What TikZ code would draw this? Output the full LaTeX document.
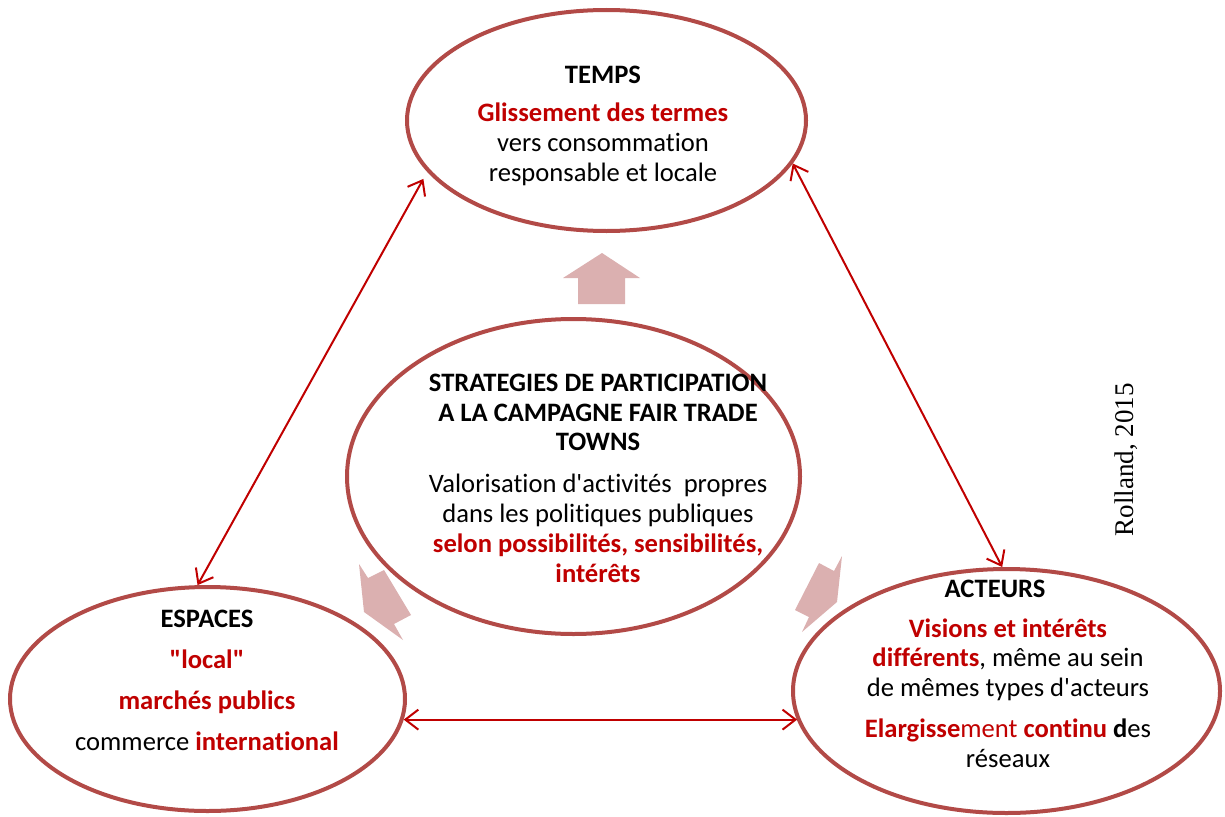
\documentclass[tikz,border=0pt]{standalone}
\usepackage{fontspec}
\setmainfont{Carlito}[Ligatures={TeXOff,NoCommon}]
\newfontfamily\seriffam{Liberation Serif}
\usetikzlibrary{shapes.geometric,arrows.meta}
\definecolor{ellred}{RGB}{178,74,71}
\definecolor{txtred}{RGB}{192,0,0}
\definecolor{blockpink}{RGB}{219,176,176}
\begin{document}
\begin{tikzpicture}[x=1pt,y=-1pt,
  oval/.style={ellipse,draw=ellred,line width=4pt,fill=white,inner sep=0pt},
  lbl/.style={align=center,font=\fontsize{26.6}{29.8}\selectfont,inner sep=0pt},
  conn/.style={draw=txtred,line width=2pt,{Straight Barb[length=13pt,width=20pt]}-{Straight Barb[length=13pt,width=20pt]}},
  blockarrow/.style={fill=blockpink,draw=none}]
\useasboundingbox (0,0) rectangle (1225,816);
% block arrows
\fill[blockarrow] (602,253) -- (640,278) -- (625,278) -- (625,304) -- (578,304) -- (578,278) -- (563,278) -- cycle;
\fill[blockarrow] (364,612) -- (359,564) -- (368,578) -- (384,570) -- (411,615) -- (394,624) -- (403,640) -- cycle;
\fill[blockarrow] (837,602) -- (842,556) -- (834,571) -- (819,563) -- (795,610) -- (809,617) -- (802,632) -- cycle;
% ellipses
\node[oval,minimum width=399pt,minimum height=221pt] (temps) at (606.5,120.5) {};
\node[oval,minimum width=453pt,minimum height=315pt] (centre) at (573.5,476.5) {};
\node[oval,minimum width=395pt,minimum height=224pt] (espaces) at (207.5,699) {};
\node[oval,minimum width=427pt,minimum height=244pt] (acteurs) at (1006.5,691) {};
% texts
\node[lbl] (ttemps) at (603,126) {\textbf{TEMPS}\\[8pt]
  \textcolor{txtred}{\textbf{Glissement des termes}}\\
  vers consommation\\
  responsable et locale};
\node[lbl] (tcentre) at (598,478) {\textbf{STRATEGIES DE PARTICIPATION}\\
  \textbf{A LA CAMPAGNE FAIR TRADE}\\
  \textbf{TOWNS}\\[12pt]
  Valorisation d'activités\ \ propres\\
  dans les politiques publiques\\
  \textcolor{txtred}{\textbf{selon possibilités, sensibilités,}}\\
  \textcolor{txtred}{\textbf{intérêts}}};
\node[lbl] (tespaces) at (207,680.5) {\textbf{ESPACES}\\[11pt]
  \textcolor{txtred}{\textbf{"local"}}\\[11pt]
  \textcolor{txtred}{\textbf{marchés publics}}\\[11pt]
  commerce \textcolor{txtred}{\textbf{international}}};
\node[lbl] (tacteurs) at (995,589) {\textbf{ACTEURS}};
\node[lbl] (bacteurs) at (1008,693) {\textcolor{txtred}{\textbf{Visions et intérêts}}\\
  \textcolor{txtred}{\textbf{différents}}, même au sein\\
  de mêmes types d'acteurs\\[11pt]
  \textcolor{txtred}{\textbf{Elargisse}ment \textbf{continu}} \textbf{d}es\\
  réseaux};
\node[rotate=90,font=\seriffam\fontsize{27}{30}\selectfont,inner sep=0pt] (source) at (1126,460) {Rolland, 2015};
% connectors
\draw[conn,shorten >=8pt] (espaces.95.6) -- (temps.196.3);
\draw[conn] (temps.-13.85) -- (acteurs.92);
\draw[conn] (espaces.-6.9) -- (espaces.-6.9 -| acteurs.188.4);
\end{tikzpicture}
\end{document}
